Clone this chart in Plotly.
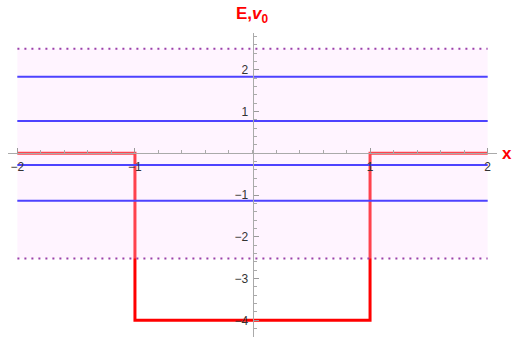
import plotly.graph_objects as go

# Square well potential v0(x)
well_x = [-2, -1, -1, 1, 1, 2]
well_v = [0, 0, -4, -4, 0, 0]

# Energy levels
energies = [1.83, 0.77, -0.28, -1.14]

# Band limits (dotted) and the x extent of the band
band_lo, band_hi = -2.52, 2.5
x_lo, x_hi = -2, 2

# Tick labels
x_ticks = [-2, -1, 1, 2]
x_labels = ["\u22122", "\u22121", "1", "2"]
y_ticks = [-4, -3, -2, -1, 1, 2]
y_labels = ["\u22124", "\u22123", "\u22122", "\u22121", "1", "2"]

x_range = [-2.08, 2.08]
y_range = [-4.40, 2.88]

fig = go.Figure()

fig.add_trace(go.Scatter(x=well_x, y=well_v, mode="lines",
                         line=dict(color="#ff0000", width=3)))

for e in energies:
    fig.add_trace(go.Scatter(x=[x_lo, x_hi], y=[e, e], mode="lines",
                             line=dict(color="#0000ff", width=2)))

# translucent band over the lines
fig.add_trace(go.Scatter(x=[x_lo, x_hi, x_hi, x_lo, x_lo],
                         y=[band_lo, band_lo, band_hi, band_hi, band_lo],
                         mode="lines", fill="toself",
                         fillcolor="rgba(255,220,255,0.3)",
                         line=dict(width=0)))

for b in (band_lo, band_hi):
    fig.add_trace(go.Scatter(x=[x_lo, x_hi], y=[b, b], mode="lines",
                             line=dict(color="#9b40aa", width=2, dash="2px,5px")))

x_pos = (0 - y_range[0]) / (y_range[1] - y_range[0])
y_pos = (0 - x_range[0]) / (x_range[1] - x_range[0])

tick_font = dict(family="Liberation Sans, Arial", size=12, color="#333333")

fig.update_layout(
    width=515, height=337,
    margin=dict(l=8, r=18, t=33, b=0),
    paper_bgcolor="white", plot_bgcolor="white",
    showlegend=False,
    xaxis=dict(range=x_range, anchor="free", position=x_pos,
               showgrid=False, zeroline=False, showline=True,
               linecolor="#aaaaaa", linewidth=1,
               tickmode="array", tickvals=x_ticks, ticktext=x_labels,
               ticks="inside", ticklen=5, tickcolor="#999999",
               minor=dict(dtick=0.2, tick0=0, ticks="inside", ticklen=3,
                          tickcolor="#aaaaaa", showgrid=False),
               tickfont=tick_font, ticklabelstandoff=2),
    yaxis=dict(range=y_range, anchor="free", position=y_pos,
               showgrid=False, zeroline=False, showline=True,
               linecolor="#aaaaaa", linewidth=1,
               tickmode="array", tickvals=y_ticks, ticktext=y_labels,
               ticks="inside", ticklen=5, tickcolor="#999999",
               minor=dict(dtick=0.2, tick0=0, ticks="inside", ticklen=3,
                          tickcolor="#aaaaaa", showgrid=False),
               tickfont=tick_font, ticklabelstandoff=2),
    annotations=[
        dict(text="<b>E,<i>v</i><sub>0</sub></b>", xref="paper", yref="paper",
             x=0.5, y=1, yshift=33 - 15, xanchor="center", yanchor="middle",
             showarrow=False,
             font=dict(family="Liberation Sans, Arial", size=17, color="#ff0000")),
        dict(text="<b>x</b>", xref="paper", yref="paper",
             x=1, y=x_pos, xshift=17, xanchor="right", yanchor="middle",
             showarrow=False,
             font=dict(family="Liberation Sans, Arial", size=17, color="#ff0000")),
    ],
)

fig.write_html("out.html")
